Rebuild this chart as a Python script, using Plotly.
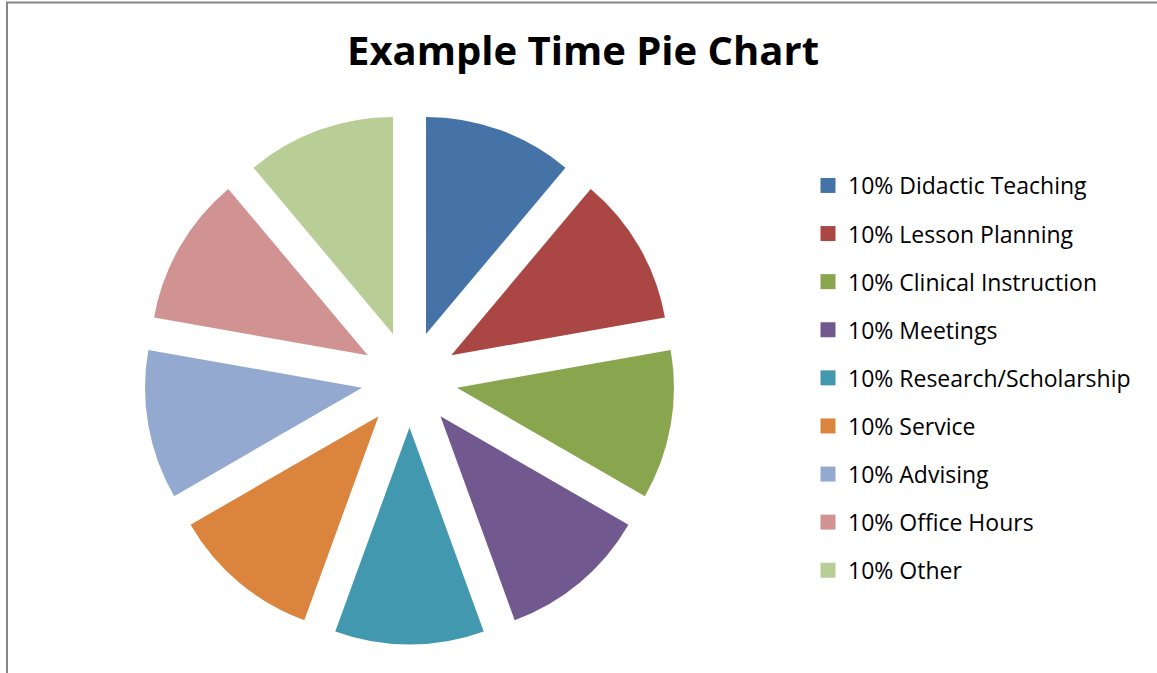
import plotly.graph_objects as go

categories = ["Didactic Teaching", "Lesson Planning", "Clinical Instruction", "Meetings",
              "Research/Scholarship", "Service", "Advising", "Office Hours", "Other"]
values = [10, 10, 10, 10, 10, 10, 10, 10, 10]
colors = ["#4572A7", "#AA4643", "#89A54E", "#71588F", "#4198AF",
          "#DB843D", "#93A9CF", "#D19392", "#B9CD96"]
labels = [f"{v}% {c}" for v, c in zip(values, categories)]

W, H = 1157, 673

fig = go.Figure()
fig.add_trace(go.Pie(
    labels=labels, values=values, sort=False, direction="clockwise", rotation=0,
    marker=dict(colors=colors, line=dict(width=0)),
    pull=[0.222] * len(values), textinfo="none", hoverinfo="label",
    showlegend=False,
    domain=dict(x=[144.3 / W, 674.7 / W], y=[1 - 644.5 / H, 1 - 114.1 / H]),
))

# legend entries (one per slice, spaced like the reference)
for i, (lab, col) in enumerate(zip(labels, colors)):
    fig.add_trace(go.Scatter(
        x=[None], y=[None], mode="markers", name=lab, legendgroup=f"g{i}",
        marker=dict(symbol="square", size=15, color=col, line=dict(width=0)),
        showlegend=True, hoverinfo="skip",
    ))

fig.update_layout(
    width=W, height=H,
    margin=dict(l=0, r=0, t=0, b=0),
    paper_bgcolor="white", plot_bgcolor="white",
    xaxis=dict(visible=False), yaxis=dict(visible=False),
    title=dict(text="<b>Example Time Pie Chart</b>", x=583 / W, xanchor="center",
               y=1 - 51.3 / H, yanchor="middle",
               font=dict(family="Open Sans", size=40, color="black")),
    legend=dict(x=808 / W, xanchor="left", y=1 - 164 / H, yanchor="top",
                font=dict(family="Open Sans", size=23, color="black"),
                tracegroupgap=15.2, bgcolor="rgba(0,0,0,0)", itemsizing="trace"),
    shapes=[dict(type="rect", xref="paper", yref="paper",
                 x0=7 / W, x1=1.2, y0=-0.2, y1=1 - 2.5 / H,
                 line=dict(color="#868686", width=2), layer="above")],
)

fig.write_html("out.html", config={"displayModeBar": False},
               post_script="document.body.style.margin='0';")
